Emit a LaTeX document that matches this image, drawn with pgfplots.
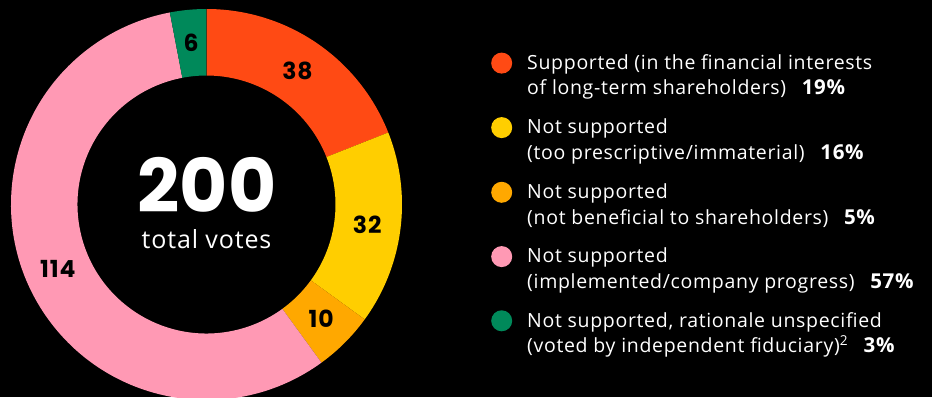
\documentclass[border=0pt]{standalone}
\usepackage{fontspec}
\setmainfont{Open Sans}
\newfontfamily\legfont{Open Sans}[LetterSpace=3.5]
\newfontfamily\numfont{Poppins}
\newfontfamily\lblfont{Poppins}[LetterSpace=4]
\usepackage{pgfplots}
\pgfplotsset{compat=1.18}
\usetikzlibrary{calc}
\definecolor{cOrange}{RGB}{255,74,20}
\definecolor{cYellow}{RGB}{255,206,0}
\definecolor{cAmber}{RGB}{255,168,0}
\definecolor{cPink}{RGB}{255,153,180}
\definecolor{cGreen}{RGB}{0,137,90}
% data (votes)
\def\vA{38}\def\vB{32}\def\vC{10}\def\vD{114}\def\vE{6}
\pgfmathsetmacro\tot{\vA+\vB+\vC+\vD+\vE}
\pgfmathsetmacro\aA{90}
\pgfmathsetmacro\aB{\aA-(\vA/\tot)*360}
\pgfmathsetmacro\aC{\aB-(\vB/\tot)*360}
\pgfmathsetmacro\aD{\aC-(\vC/\tot)*360}
\pgfmathsetmacro\aE{\aD-(\vD/\tot)*360}
\pgfmathsetmacro\aF{\aE-(\vE/\tot)*360}
\def\cx{206.5}\def\cy{192.5}
\def\Ro{195.5pt}\def\Ri{129pt}\def\Rm{162pt}
\newcommand\donutseg[3]{%
  \fill[#3] (axis cs:\cx,\cy) ++(#1:\Ro) arc[start angle=#1, end angle=#2, radius=\Ro]
    -- ($(axis cs:\cx,\cy)+(#2:\Ri)$) arc[start angle=#2, end angle=#1, radius=\Ri] -- cycle;}
\newcommand\seglabel[3]{%
  \node[font=\lblfont\fontsize{23.5}{26}\selectfont\bfseries, text=black, inner sep=0] at ($(axis cs:\cx,\cy)+({(#1+#2)/2}:\Rm)$) {#3};}
\newcommand\legitem[5]{% y of line1 baseline (img px), color, line1, line2
  \fill[#2] (axis cs:501.7,{397-#1+6.2}) circle[radius=10.5pt];
  \node[anchor=base west, inner sep=0, text=white, font=\legfont\fontsize{19.5}{26}\selectfont] at (axis cs:527,{397-#1}) {#3};
  \node[anchor=base west, inner sep=0, text=white, font=\legfont\fontsize{19.5}{26}\selectfont] at (axis cs:527,{397-#1-25.6}) {#4\hspace{0.8em}{\fontsize{20.5}{26}\selectfont\bfseries #5}};}
\begin{document}
\begin{tikzpicture}
\path[use as bounding box, fill=black] (0,0) rectangle (932pt,397pt);
\begin{axis}[at={(0,0)}, anchor=origin, width=932pt, height=397pt, scale only axis,
  xmin=0, xmax=932, ymin=0, ymax=397, hide axis, clip=true]
\donutseg{\aA}{\aB}{cOrange}
\donutseg{\aB}{\aC}{cYellow}
\donutseg{\aC}{\aD}{cAmber}
\donutseg{\aD}{\aE}{cPink}
\donutseg{\aE}{\aF}{cGreen}
\seglabel{\aA}{\aB}{38}
\seglabel{\aB}{\aC}{32}
\seglabel{\aC}{\aD}{10}
\seglabel{\aD}{\aE}{114}
\seglabel{\aE}{\aF}{6}
\node[anchor=base, inner sep=0, text height=53pt, text depth=0pt, text=white, font=\numfont\fontsize{74}{80}\selectfont\bfseries] at (axis cs:207,{397-212.7}) {200};
\node[anchor=base, inner sep=0, text height=19pt, text depth=0pt, text=white, font=\legfont\fontsize{25}{28}\selectfont] at (axis cs:206.5,{397-248}) {total votes};
\legitem{69.3}{cOrange}{Supported (in the financial interests}{of long-term shareholders)}{19\%}
\legitem{133.8}{cYellow}{Not supported}{(too prescriptive/immaterial)}{16\%}
\legitem{198.5}{cAmber}{Not supported}{(not beneficial to shareholders)}{5\%}
\legitem{262.8}{cPink}{Not supported}{(implemented/company progress)}{57\%}
\legitem{327}{cGreen}{Not supported, rationale unspecified}{(voted by independent fiduciary)\textsuperscript{2}}{3\%}
\end{axis}
\end{tikzpicture}
\end{document}
